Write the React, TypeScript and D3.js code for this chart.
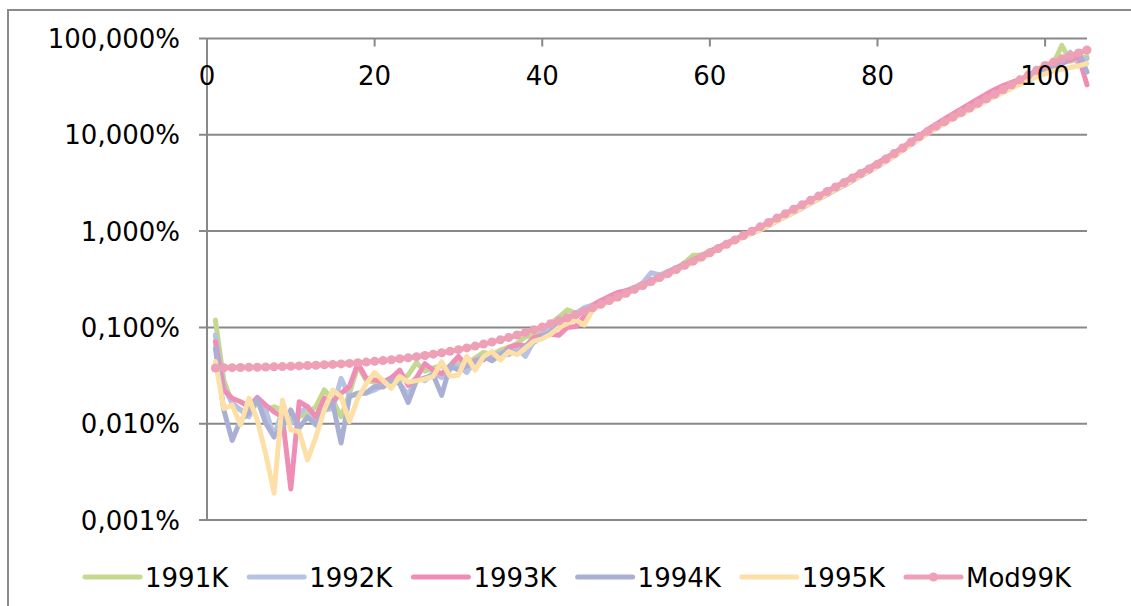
import React, { useEffect, useRef } from "react";
import * as d3 from "d3";

// ages 1..105 on the x axis
const ages = d3.range(1, 106);

// yearly rates in percent
const k1991 = [
  0.119, 0.0284, 0.0163, 0.0139, 0.0133, 0.0163, 0.0139, 0.015, 0.0139, 0.0109,
  0.0118, 0.0128, 0.015, 0.0224, 0.0176, 0.0118, 0.0207, 0.04, 0.028, 0.027,
  0.026, 0.03, 0.028, 0.032, 0.043, 0.035, 0.038, 0.04, 0.036, 0.045,
  0.042, 0.048, 0.055, 0.052, 0.058, 0.062, 0.068, 0.08, 0.082, 0.095,
  0.11, 0.128, 0.152, 0.14, 0.15, 0.165, 0.18, 0.2, 0.22, 0.24,
  0.26, 0.28, 0.31, 0.34, 0.38, 0.41, 0.47, 0.56, 0.56, 0.62,
  0.68, 0.74, 0.82, 0.9, 0.98, 1.06, 1.17, 1.3, 1.44, 1.6,
  1.78, 1.98, 2.2, 2.45, 2.73, 3.04, 3.4, 3.8, 4.25, 4.75,
  5.4, 6.15, 7.0, 8.1, 9.3, 10.6, 12.0, 13.5, 15.2, 17.0,
  19.0, 21.5, 24.0, 27.0, 30.0, 33.5, 37.0, 41.0, 45.0, 49.0,
  55, 85, 58, 62, 65,
];

const k1992 = [
  0.0834, 0.0243, 0.0163, 0.0139, 0.0118, 0.0184, 0.0139, 0.0073, 0.0139, 0.0101,
  0.0128, 0.015, 0.0109, 0.0139, 0.0144, 0.0296, 0.0191, 0.0207, 0.0207, 0.0224,
  0.025, 0.03, 0.026, 0.02, 0.03, 0.028, 0.034, 0.03, 0.038, 0.04,
  0.034, 0.046, 0.05, 0.048, 0.055, 0.052, 0.06, 0.05, 0.072, 0.09,
  0.1, 0.112, 0.125, 0.14, 0.16, 0.17, 0.18, 0.2, 0.22, 0.24,
  0.26, 0.29, 0.37, 0.35, 0.38, 0.42, 0.45, 0.5, 0.55, 0.61,
  0.67, 0.73, 0.8, 0.88, 0.96, 1.04, 1.15, 1.28, 1.42, 1.58,
  1.75, 1.95, 2.17, 2.42, 2.7, 3.0, 3.36, 3.78, 4.22, 4.75,
  5.35, 6.1, 7.0, 8.0, 9.2, 10.5, 11.9, 13.4, 15.0, 16.8,
  18.8, 21.0, 23.5, 26.3, 29.3, 32.5, 36.0, 40.0, 44.0, 49.0,
  52, 60, 72, 55, 62,
];

const k1993 = [
  0.0711, 0.0224, 0.0184, 0.0169, 0.015, 0.0188, 0.0156, 0.0133, 0.0118, 0.0021,
  0.0169, 0.015, 0.0118, 0.0184, 0.0169, 0.0207, 0.0243, 0.0424, 0.0296, 0.0284,
  0.027, 0.03, 0.036, 0.025, 0.03, 0.042, 0.036, 0.033, 0.04, 0.05,
  0.04, 0.045, 0.046, 0.055, 0.05, 0.062, 0.066, 0.064, 0.078, 0.082,
  0.085, 0.083, 0.1, 0.102, 0.13, 0.17, 0.19, 0.21, 0.23, 0.24,
  0.25, 0.28, 0.3, 0.33, 0.37, 0.41, 0.45, 0.5, 0.55, 0.61,
  0.68, 0.75, 0.82, 0.91, 1.0, 1.1, 1.22, 1.35, 1.5, 1.68,
  1.87, 2.08, 2.33, 2.6, 2.9, 3.25, 3.62, 4.05, 4.52, 5.1,
  5.75, 6.5, 7.4, 8.5, 9.8, 11.3, 12.9, 14.6, 16.5, 18.6,
  21.0, 23.6, 26.5, 29.5, 32.5, 35.0, 37.5, 41.0, 44.0, 48.0,
  52, 55, 60, 65, 33,
];

const k1994 = [
  0.0607, 0.0139, 0.0067, 0.0109, 0.0128, 0.018, 0.0101, 0.0073, 0.0093, 0.0139,
  0.009, 0.0118, 0.0097, 0.0139, 0.0163, 0.0063, 0.0191, 0.0207, 0.021, 0.0243,
  0.024, 0.028, 0.026, 0.0166, 0.028, 0.03, 0.032, 0.0197, 0.04, 0.036,
  0.04, 0.042, 0.05, 0.045, 0.052, 0.058, 0.053, 0.064, 0.07, 0.08,
  0.09, 0.11, 0.12, 0.13, 0.15, 0.16, 0.17, 0.19, 0.21, 0.23,
  0.25, 0.27, 0.3, 0.34, 0.36, 0.4, 0.44, 0.48, 0.54, 0.6,
  0.65, 0.72, 0.8, 0.88, 0.95, 1.03, 1.14, 1.27, 1.41, 1.56,
  1.74, 1.94, 2.16, 2.4, 2.68, 2.98, 3.33, 3.74, 4.18, 4.7,
  5.3, 6.0, 6.9, 7.9, 9.1, 10.4, 11.8, 13.3, 14.9, 16.6,
  18.6, 20.8, 23.2, 26.0, 29.0, 32.0, 35.5, 39.5, 43.5, 48.0,
  50, 55, 65, 72, 45,
];

const k1995 = [
  0.0441, 0.0144, 0.0156, 0.0097, 0.0184, 0.0109, 0.0049, 0.0019, 0.0176, 0.0086,
  0.0083, 0.0042, 0.0073, 0.0139, 0.0224, 0.0191, 0.0105, 0.0184, 0.026, 0.034,
  0.028, 0.0233, 0.031, 0.027, 0.028, 0.029, 0.031, 0.044, 0.031, 0.032,
  0.05, 0.036, 0.05, 0.056, 0.046, 0.056, 0.052, 0.061, 0.072, 0.076,
  0.085, 0.1, 0.11, 0.12, 0.106, 0.15, 0.17, 0.185, 0.2, 0.22,
  0.25, 0.27, 0.29, 0.32, 0.35, 0.39, 0.43, 0.47, 0.52, 0.58,
  0.64, 0.71, 0.78, 0.86, 0.95, 1.03, 1.14, 1.27, 1.41, 1.57,
  1.75, 1.95, 2.17, 2.42, 2.7, 3.0, 3.36, 3.76, 4.2, 4.7,
  5.3, 6.0, 6.9, 7.9, 9.1, 10.3, 11.6, 13.0, 14.6, 16.3,
  18.2, 20.2, 22.5, 25.0, 27.5, 30.5, 33.5, 36.5, 40.0, 43.0,
  46, 48, 50, 52, 55,
];

const mod99K = [
  0.0379, 0.0381, 0.0382, 0.0383, 0.0385, 0.0386, 0.0388, 0.039, 0.0392, 0.0395,
  0.0398, 0.0401, 0.0405, 0.0409, 0.0413, 0.0418, 0.0423, 0.0429, 0.0436, 0.0444,
  0.0452, 0.0461, 0.0472, 0.0483, 0.0496, 0.0511, 0.0527, 0.0545, 0.0565, 0.0587,
  0.0612, 0.064, 0.0671, 0.0705, 0.0743, 0.0786, 0.0834, 0.0887, 0.0946, 0.101,
  0.109, 0.117, 0.126, 0.136, 0.147, 0.16, 0.174, 0.19, 0.207, 0.226,
  0.248, 0.272, 0.299, 0.329, 0.362, 0.399, 0.441, 0.487, 0.538, 0.596,
  0.66, 0.731, 0.81, 0.899, 0.997, 1.107, 1.229, 1.365, 1.517, 1.686,
  1.875, 2.085, 2.319, 2.58, 2.87, 3.19, 3.56, 3.96, 4.41, 4.95,
  5.6, 6.4, 7.3, 8.4, 9.6, 10.9, 12.3, 13.7, 15.3, 17.0,
  19.0, 21.2, 23.7, 26.4, 29.5, 33.1, 37.2, 41.7, 46.8, 52.5,
  56.9, 61.7, 66.1, 70.8, 75.9,
];

const seriesNames = ["1991K", "1992K", "1993K", "1994K", "1995K", "Mod99K"];
const seriesValues = [k1991, k1992, k1993, k1994, k1995, mod99K];
const seriesColors = ["#c4d98f", "#b7c3e3", "#ef8db5", "#a9b0d4", "#fde0a8", "#eda0b6"];

const yTicks = [100, 10, 1, 0.1, 0.01, 0.001];
const yTickLabels = ["100,000%", "10,000%", "1,000%", "0,100%", "0,010%", "0,001%"];
const xTicks = [0, 20, 40, 60, 80, 100];

export default function App() {
  const svgRef = useRef<SVGSVGElement>(null);

  useEffect(() => {
    const svg = d3.select(svgRef.current);
    svg.selectAll("*").remove();

    const font = "DejaVu Sans, Verdana, sans-serif";
    const gridColor = "#888888";

    const x = d3.scaleLinear().domain([0, 105]).range([207, 1087]);
    const y = d3.scaleLog().domain([0.001, 100]).range([520, 38.5]);

    // chart border (runs off the right and bottom edge)
    svg
      .append("rect")
      .attr("x", 8)
      .attr("y", 10)
      .attr("width", 1140)
      .attr("height", 620)
      .attr("fill", "#fff")
      .attr("stroke", "#8a8a8a")
      .attr("stroke-width", 2);

    // horizontal gridlines + y ticks
    svg
      .append("g")
      .selectAll("line")
      .data(yTicks)
      .join("line")
      .attr("x1", 199)
      .attr("x2", x(105))
      .attr("y1", (d) => y(d))
      .attr("y2", (d) => y(d))
      .attr("stroke", gridColor)
      .attr("stroke-width", 2);

    // y axis line
    svg
      .append("line")
      .attr("x1", x(0))
      .attr("x2", x(0))
      .attr("y1", y(100))
      .attr("y2", y(0.001))
      .attr("stroke", gridColor)
      .attr("stroke-width", 2);

    // x ticks on the top line
    svg
      .append("g")
      .selectAll("line")
      .data(xTicks)
      .join("line")
      .attr("x1", (d) => x(d))
      .attr("x2", (d) => x(d))
      .attr("y1", y(100))
      .attr("y2", y(100) + 8)
      .attr("stroke", gridColor)
      .attr("stroke-width", 2);

    // series lines
    const line = d3
      .line<number>()
      .x((_, i) => x(ages[i]))
      .y((d) => y(d));

    seriesValues.forEach((vals, si) => {
      svg
        .append("path")
        .datum(vals)
        .attr("d", line)
        .attr("fill", "none")
        .attr("stroke", seriesColors[si])
        .attr("stroke-width", 5)
        .attr("stroke-linejoin", "round")
        .attr("stroke-linecap", "round");
    });

    // markers for the model
    svg
      .append("g")
      .selectAll("circle")
      .data(mod99K)
      .join("circle")
      .attr("cx", (_, i) => x(ages[i]))
      .attr("cy", (d) => y(d))
      .attr("r", 4.5)
      .attr("fill", seriesColors[5]);

    // y labels
    svg
      .append("g")
      .selectAll("text")
      .data(yTicks)
      .join("text")
      .attr("x", 180)
      .attr("y", (d) => y(d) + 9.5)
      .attr("text-anchor", "end")
      .attr("font-family", font)
      .attr("font-size", 26)
      .attr("fill", "#000")
      .text((_, i) => yTickLabels[i]);

    // x labels
    svg
      .append("g")
      .selectAll("text")
      .data(xTicks)
      .join("text")
      .attr("x", (d) => x(d))
      .attr("y", 85)
      .attr("text-anchor", "middle")
      .attr("font-family", font)
      .attr("font-size", 26)
      .attr("fill", "#000")
      .text((d) => String(d));

    // legend
    const legendY = 577;
    const legend = svg
      .append("g")
      .selectAll("g")
      .data(seriesNames)
      .join("g")
      .attr("transform", (_, i) => `translate(${85 + i * 164.2},${legendY})`);

    legend
      .append("line")
      .attr("x1", 0)
      .attr("x2", 55)
      .attr("stroke", (_, i) => seriesColors[i])
      .attr("stroke-width", 5)
      .attr("stroke-linecap", "round");

    legend
      .filter((d) => d === "Mod99K")
      .append("circle")
      .attr("cx", 27.5)
      .attr("r", 4.5)
      .attr("fill", seriesColors[5]);

    legend
      .append("text")
      .attr("x", 60)
      .attr("y", 9.5)
      .attr("font-family", font)
      .attr("font-size", 26)
      .attr("fill", "#000")
      .text((d) => d);
  }, []);

  return (
    <svg
      ref={svgRef}
      width={1131}
      height={606}
      style={{ position: "absolute", left: 0, top: 0, display: "block" }}
    />
  );
}
